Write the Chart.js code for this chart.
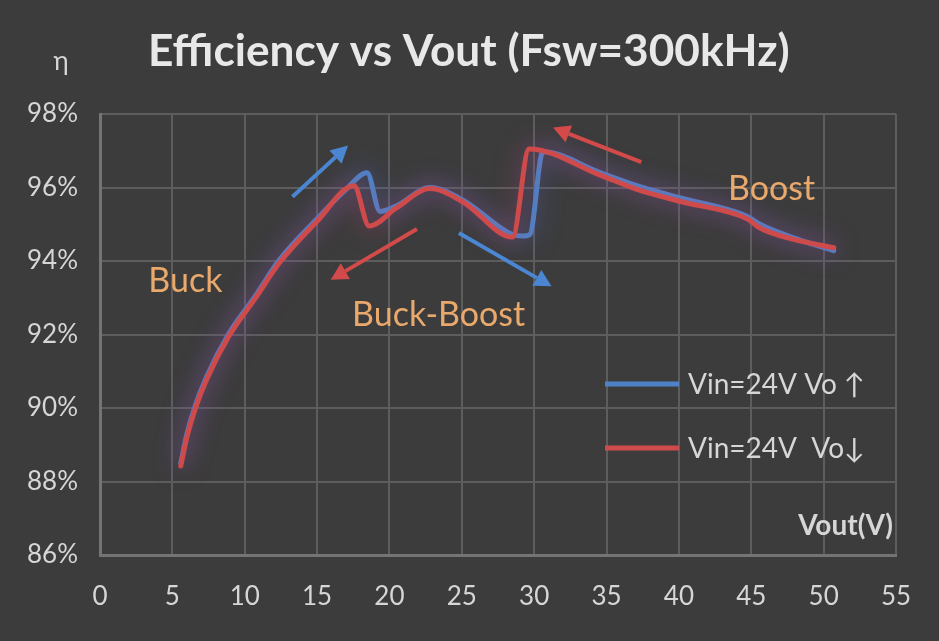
<!DOCTYPE html>
<html>
<head>
<meta charset="utf-8">
<script src="https://cdn.jsdelivr.net/npm/chart.js@4.4.1/dist/chart.umd.min.js"></script>
<style>
  html, body { margin: 0; padding: 0; background: #3c3c3c; }
  #wrap { width: 939px; height: 641px; position: relative; }
</style>
</head>
<body>
<div id="wrap"><canvas id="effChart"></canvas></div>
<script>
// Vin=24V, Vout sweeping up (blue)
const vUp = [5.58, 6.0, 6.6, 7.4, 8.9, 10.7, 12.4, 15.0, 17.0, 18.45, 19.35, 20.5, 22.8, 25.1, 28.5, 29.2, 29.7, 30.6, 34.6, 37.1, 40.1, 44.7, 45.6, 48.0, 50.7];
const effUp = [88.5, 89.28, 90.08, 90.88, 92.02, 93.03, 94.03, 95.15, 95.95, 96.4, 95.35, 95.5, 96.0, 95.65, 94.72, 94.68, 94.72, 96.97, 96.4, 96.05, 95.72, 95.22, 95.0, 94.62, 94.28];

// Vin=24V, Vout sweeping down (red)
const vDown = [5.58, 6.0, 6.6, 7.4, 8.9, 10.7, 12.4, 15.0, 17.55, 18.6, 20.5, 22.8, 25.1, 28.5, 29.65, 34.6, 37.1, 40.1, 44.7, 45.6, 48.0, 50.7];
const effDown = [88.42, 89.2, 90.0, 90.8, 91.95, 92.97, 93.95, 95.08, 96.05, 94.95, 95.45, 95.97, 95.6, 94.65, 97.05, 96.33, 95.95, 95.62, 95.15, 94.9, 94.58, 94.36];

const seriesNames = ["Vin=24V Vo \u2191", "Vin=24V  Vo\u2193"];

// annotation arrows: [x1, y1, x2, y2] in data units (tail -> tip)
const arrowsBlue = [[13.3, 95.75, 17.14, 97.14], [24.8, 94.76, 31.2, 93.31]];
const arrowsRed = [[21.9, 94.87, 15.94, 93.49], [37.4, 96.69, 31.3, 97.63]];

// region labels
const regionNames = ["Buck", "Buck-Boost", "Boost"];
const regionX = [5.9, 23.4, 46.4];
const regionY = [93.46, 92.54, 95.97];

const BLUE = "#4f81c6";
const RED = "#cf4a4a";
const TEXT = "#d6d6d6";
const FONT = "Lato, 'Open Sans', sans-serif";

// soft glow behind each line
const glowPlugin = {
  id: "glow",
  beforeDatasetDraw(chart, args) {
    const ctx = chart.ctx;
    ctx.save();
    ctx.shadowColor = args.index === 0 ? "rgba(190,70,120,0.75)" : "rgba(70,110,210,0.75)";
    ctx.shadowBlur = 24;
  },
  afterDatasetDraw(chart) {
    chart.ctx.restore();
  }
};

function drawArrow(ctx, x1, y1, x2, y2, color) {
  const ang = Math.atan2(y2 - y1, x2 - x1);
  const headLen = 17, headW = 9;
  const bx = x2 - headLen * Math.cos(ang), by = y2 - headLen * Math.sin(ang);
  ctx.strokeStyle = color;
  ctx.fillStyle = color;
  ctx.lineWidth = 4;
  ctx.beginPath();
  ctx.moveTo(x1, y1);
  ctx.lineTo(bx, by);
  ctx.stroke();
  ctx.beginPath();
  ctx.moveTo(x2, y2);
  ctx.lineTo(bx + headW * Math.sin(ang), by - headW * Math.cos(ang));
  ctx.lineTo(bx - headW * Math.sin(ang), by + headW * Math.cos(ang));
  ctx.closePath();
  ctx.fill();
}

const decorPlugin = {
  id: "decor",
  afterDatasetsDraw(chart) {
    const ctx = chart.ctx, xs = chart.scales.x, ys = chart.scales.y;
    ctx.save();
    arrowsBlue.forEach(a => drawArrow(ctx, xs.getPixelForValue(a[0]), ys.getPixelForValue(a[1]),
      xs.getPixelForValue(a[2]), ys.getPixelForValue(a[3]), "#4a86d2"));
    arrowsRed.forEach(a => drawArrow(ctx, xs.getPixelForValue(a[0]), ys.getPixelForValue(a[1]),
      xs.getPixelForValue(a[2]), ys.getPixelForValue(a[3]), "#d24a4a"));

    ctx.fillStyle = "#e9a96c";
    ctx.font = "34px " + FONT;
    ctx.textAlign = "center";
    ctx.textBaseline = "middle";
    regionNames.forEach((t, i) => ctx.fillText(t, xs.getPixelForValue(regionX[i]), ys.getPixelForValue(regionY[i])));
    ctx.restore();
  },
  afterDraw(chart) {
    const ctx = chart.ctx;
    ctx.save();
    // title, fitted to the width it has in the original
    let size = 38;
    ctx.font = "bold " + size + "px " + FONT;
    size = size * 642 / ctx.measureText("Efficiency vs Vout (Fsw=300kHz)").width;
    ctx.font = "bold " + size.toFixed(1) + "px " + FONT;
    ctx.fillStyle = "#e8e8e8";
    ctx.textAlign = "left";
    ctx.textBaseline = "middle";
    ctx.fillText("Efficiency vs Vout (Fsw=300kHz)", 148, 52);

    ctx.font = "26px " + FONT;
    ctx.fillStyle = TEXT;
    ctx.textAlign = "center";
    ctx.fillText("\u03b7", 61, 62);

    ctx.font = "bold 28px " + FONT;
    ctx.textAlign = "right";
    ctx.fillText("Vout(V)", 893, 526);

    // legend
    const colors = [BLUE, RED];
    const rows = [384, 448];
    ctx.font = "28px " + FONT;
    ctx.textAlign = "left";
    rows.forEach((yy, i) => {
      ctx.strokeStyle = colors[i];
      ctx.lineWidth = 5;
      ctx.beginPath();
      ctx.moveTo(605, yy);
      ctx.lineTo(679, yy);
      ctx.stroke();
      ctx.fillStyle = TEXT;
      ctx.fillText(seriesNames[i], 688, yy + 1);
    });
    ctx.restore();
  }
};

const toPoints = (xs, ys) => xs.map((v, i) => ({ x: v, y: ys[i] }));

new Chart(document.getElementById("effChart"), {
  type: "line",
  data: {
    datasets: [
      {
        label: seriesNames[1],
        data: toPoints(vDown, effDown),
        borderColor: RED,
        borderWidth: 5,
        pointRadius: 0,
        cubicInterpolationMode: "monotone",
        borderCapStyle: "round",
        borderJoinStyle: "round"
      },
      {
        label: seriesNames[0],
        data: toPoints(vUp, effUp),
        borderColor: BLUE,
        borderWidth: 5,
        pointRadius: 0,
        cubicInterpolationMode: "monotone",
        borderCapStyle: "round",
        borderJoinStyle: "round"
      }
    ]
  },
  options: {
    responsive: true,
    maintainAspectRatio: false,
    animation: false,
    layout: { padding: { top: 114, right: 43, left: 0, bottom: 0 } },
    plugins: {
      legend: { display: false },
      tooltip: { enabled: false },
      title: { display: false }
    },
    scales: {
      x: {
        type: "linear",
        min: 0,
        max: 55,
        ticks: { stepSize: 5, color: TEXT, font: { family: FONT, size: 26 }, padding: 26 },
        grid: { color: "#5d5d5d", lineWidth: 2, drawTicks: false },
        border: { color: "#747474", width: 3 },
        afterFit(scale) { scale.height = 86; }
      },
      y: {
        min: 86,
        max: 98,
        ticks: {
          stepSize: 2,
          color: TEXT,
          font: { family: FONT, size: 26 },
          padding: 22,
          callback: v => v + "%"
        },
        grid: { color: "#5d5d5d", lineWidth: 2, drawTicks: false },
        border: { color: "#747474", width: 3 },
        afterFit(scale) { scale.width = 100; }
      }
    }
  },
  plugins: [glowPlugin, decorPlugin]
});
</script>
</body>
</html>
